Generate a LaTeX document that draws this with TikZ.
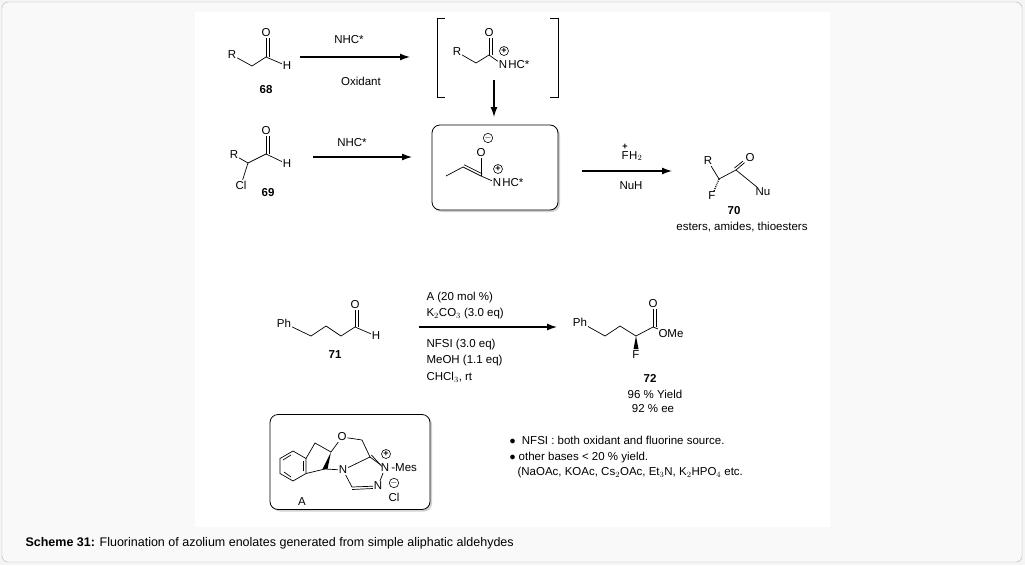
\documentclass[tikz,border=0pt]{standalone}
\usepackage{fontspec}
\setmainfont{Liberation Sans}
\usetikzlibrary{arrows.meta,positioning,shadows,calc}
\begin{document}
\begin{tikzpicture}
      [x = 1pt, y = -1pt,
      font = \fontsize{11.5}{13}\selectfont,
      bond/.style = {line width = 0.7pt},
      rxn/.style = {line width = 1.3pt, -{Latex[length=10pt,width=7pt]}},
      atom/.style = {inner sep = 0.8pt},
      cpd/.style = {font = \fontsize{11.5}{13}\selectfont\bfseries},
      chg/.style = {circle, draw, line width = 0.6pt, inner sep = 0pt,
         minimum size = 9pt, font = \fontsize{9}{9}\selectfont\bfseries},
      panel/.style = {draw, rounded corners = 8pt, line width = 0.8pt,
         fill = white, drop shadow = {shadow xshift = 2pt, shadow yshift = -2pt,
         fill = gray!70}}
      ]
      \useasboundingbox (0,0) rectangle (1025,565);
      \fill[gray!8] (0,0) rectangle (1025,565);
      \draw[gray!60, fill = gray!5, rounded corners = 6pt] (2,2) rectangle (1022,562);
      \fill[white] (195,12) rectangle (830,527);

      % 68
      \node[atom] (r68) at (232,55) {R};
      \node[atom] (o68) at (266,33) {O};
      \node[atom] (h68) at (287,66) {H};
      \coordinate (a68) at (252,66);
      \coordinate (b68) at (266,57);
      \draw[bond] (r68) -- (a68) -- (b68) -- (h68);
      \draw[bond] (b68) -- (o68);
      \draw[bond] ([xshift=3pt]b68) -- ([xshift=3pt]o68.south);
      \node[cpd] (c68) at (266,90) {68};

      \coordinate (s1) at (300,57);
      \coordinate (e1) at (410,57);
      \draw[rxn] (s1) -- (e1);
      \node (nhc1) at (349,40) {NHC*};
      \node (ox) at (361,81) {Oxidant};

      % acyl azolium
      \draw[line width = 0.6pt] (445,18) -- (437,18) -- (437,97) -- (445,97);
      \draw[line width = 0.6pt] (550,18) -- (558,18) -- (558,97) -- (550,97);
      \node[atom] (racy) at (457,52) {R};
      \node[atom] (oacy) at (489,33) {O};
      \node[atom] (nacy) at (503,65) {N};
      \node[anchor = west, inner sep = 0pt] (hcacy) at (nacy.east) {HC*};
      \node[chg] at (504,51) {+};
      \coordinate (aacy) at (476,63);
      \coordinate (bacy) at (489,55);
      \draw[bond] (racy) -- (aacy) -- (bacy) -- (nacy);
      \draw[bond] (bacy) -- (oacy);
      \draw[bond] ([xshift=3pt]bacy) -- ([xshift=3pt]oacy.south);

      \coordinate (s2) at (494,80);
      \coordinate (e2) at (494,117);
      \draw[rxn] (s2) -- (e2);

      % azolium enolate
      \node[panel, minimum width = 126pt, minimum height = 85pt] (box) at (495,167.5) {};
      \node[atom] (oen) at (481,153) {O};
      \node[chg] at (488,138) {$-$};
      \node[atom] (nen) at (497,183) {N};
      \node[anchor = west, inner sep = 0pt] (hcen) at (nen.east) {HC*};
      \node[chg] at (498,169) {+};
      \coordinate (men) at (446,176);
      \coordinate (cen) at (463,167);
      \coordinate (den) at (481,176);
      \draw[bond] (men) -- (cen) -- (den) -- (nen);
      \draw[bond] ($(cen)!2.5pt!90:(den)$) -- ($(den)!2.5pt!-90:(cen)$);
      \draw[bond] (den) -- (oen);

      % 69
      \node[atom] (r69) at (234,155) {R};
      \node[atom] (o69) at (266,131) {O};
      \node[atom] (h69) at (287,164) {H};
      \node[atom] (cl69) at (241,185) {Cl};
      \coordinate (a69) at (248,163);
      \coordinate (b69) at (266,154);
      \draw[bond] (r69) -- (a69) -- (b69) -- (h69);
      \draw[bond] (a69) -- (cl69);
      \draw[bond] (b69) -- (o69);
      \draw[bond] ([xshift=3pt]b69) -- ([xshift=3pt]o69.south);
      \node[cpd] (c69) at (268,193) {69};

      \coordinate (s3) at (313,157);
      \coordinate (e3) at (412,157);
      \draw[rxn] (s3) -- (e3);
      \node (nhc2) at (352,143) {NHC*};

      \coordinate (s4) at (582,171);
      \coordinate (e4) at (672,171);
      \draw[rxn] (s4) -- (e4);
      \node (fh2) at (632,156) {F\kern0.5pt H$_2$};
      \node[font = \fontsize{9}{9}\selectfont\bfseries] at (625,147) {+};
      \node (nuh) at (631,186) {NuH};

      % 70
      \node[atom] (r70) at (708,161) {R};
      \node[atom] (o70) at (750,158) {O};
      \node[atom] (nu70) at (763,192) {Nu};
      \node[atom] (f70) at (712,196) {F};
      \coordinate (a70) at (719,179);
      \coordinate (b70) at (736,170);
      \draw[bond] (r70) -- (a70) -- (b70) -- (nu70);
      \draw[bond] (b70) -- (o70);
      \draw[bond] ($(b70)!2.5pt!90:(o70)$) -- ($(o70.south west)!2.5pt!-90:(b70)$);
      \draw[bond, dash pattern = on 0.8pt off 1.2pt, line width = 1.5pt] (a70) -- (f70);
      \node[cpd] (c70) at (734,211) {70};
      \node (use70) at (742,227) {esters, amides, thioesters};

      % 71
      \node[atom] (ph71) at (284,323) {Ph};
      \node[atom] (o71) at (355,305) {O};
      \node[atom] (h71) at (376,336) {H};
      \coordinate (a71) at (311,336);
      \coordinate (b71) at (326,326);
      \coordinate (c71) at (341,336);
      \coordinate (d71) at (355,327);
      \draw[bond] (ph71) -- (a71) -- (b71) -- (c71) -- (d71) -- (h71);
      \draw[bond] (d71) -- (o71);
      \draw[bond] ([xshift=3pt]d71) -- ([xshift=3pt]o71.south);
      \node[cpd] (n71) at (335,355) {71};

      \coordinate (s5) at (419,327);
      \coordinate (e5) at (557,327);
      \draw[rxn] (s5) -- (e5);
      \node[anchor = west] (cat) at (423,298) {A (20 mol \%)};
      \node[anchor = west] (base) at (423,314) {K$_2$CO$_3$ (3.0 eq)};
      \node[anchor = west] (nfsi) at (423,345) {NFSI (3.0 eq)};
      \node[anchor = west] (meoh) at (423,361) {MeOH (1.1 eq)};
      \node[anchor = west] (solv) at (423,377) {CHCl$_3$, rt};

      % 72
      \node[atom] (ph72) at (580,322) {Ph};
      \node[atom] (o72) at (653,304) {O};
      \node[atom] (ome72) at (671,334) {OMe};
      \node[atom] (f72) at (636,355) {F};
      \coordinate (a72) at (605,336);
      \coordinate (b72) at (620,326);
      \coordinate (c72) at (636,336);
      \coordinate (d72) at (653,327);
      \draw[bond] (ph72) -- (a72) -- (b72) -- (c72) -- (d72) -- (ome72);
      \draw[bond] (d72) -- (o72);
      \draw[bond] ([xshift=3pt]d72) -- ([xshift=3pt]o72.south);
      \fill (c72) -- (633.5,349) -- (638.5,349) -- cycle;
      \node[cpd] (n72) at (650,378) {72};
      \node (yld) at (655,394) {96 \% Yield};
      \node (ee) at (653,409) {92 \% ee};

      % catalyst A
      \node[panel, minimum width = 160pt, minimum height = 95pt] (boxA) at (350,462) {};
      \draw[bond] (306,458.5) -- (293,451) -- (280,458.5) -- (280,473.5) -- (293,481) -- (306,473.5) -- cycle;
      \draw[bond] (291,455) -- (283,460);
      \draw[bond] (284,472) -- (291,477);
      \draw[bond] (303,461) -- (303,471);
      \coordinate (ch2) at (315,443);
      \coordinate (c3a) at (331,452);
      \coordinate (c7a) at (325,469);
      \node[atom] (oa) at (342,437) {O};
      \node[atom] (n1) at (343,470) {N};
      \node[atom] (np) at (385,468) {N};
      \node[atom] (n2) at (378,486) {N};
      \coordinate (ch2b) at (362,440);
      \coordinate (c3) at (370,457);
      \coordinate (c5) at (352,487);
      \draw[bond] (306,458.5) -- (ch2) -- (c3a);
      \draw[bond] (306,473.5) -- (c7a);
      \fill (c3a) -- ($(c7a)+(-2.5,0)$) -- ($(c7a)+(2.5,0)$) -- cycle;
      \draw[bond] (c3a) -- (oa) -- (ch2b) -- (c3);
      \draw[bond] (c7a) -- (n1) -- (c3);
      \draw[bond] (c3) -- (np);
      \draw[bond] ($(c3)!2.5pt!90:(np)$) -- ($(np.west)!2.5pt!-90:(c3)$);
      \draw[bond] (np) -- (n2) -- (c5) -- (n1);
      \draw[bond] ([yshift=-2.5pt]c5) -- ([yshift=-2.5pt]n2.west);
      \node[chg] at (386,454) {+};
      \node[anchor = west, inner sep = 0pt] (mes) at ([xshift=1pt]np.east) {-Mes};
      \node[chg] at (394,483) {$-$};
      \node (cl) at (394,497) {Cl};
      \node (la) at (302,502) {A};

      % notes
      \node[anchor = west] (note1) at (506,440) {$\bullet$\ \ NFSI : both oxidant and fluorine source.};
      \node[anchor = west] (note2) at (506,458) {$\bullet$ other bases < 20 \% yield.};
      \node[anchor = west] (note3) at (514,473) {(NaOAc, KOAc, Cs$_2$OAc, Et$_3$N, K$_2$HPO$_4$ etc.};

      \node[anchor = west, font = \fontsize{12.5}{14}\selectfont] (cap) at (22,543)
         {\textbf{Scheme 31:} Fluorination of azolium enolates generated from simple aliphatic aldehydes};
   \end{tikzpicture}
\end{document}
